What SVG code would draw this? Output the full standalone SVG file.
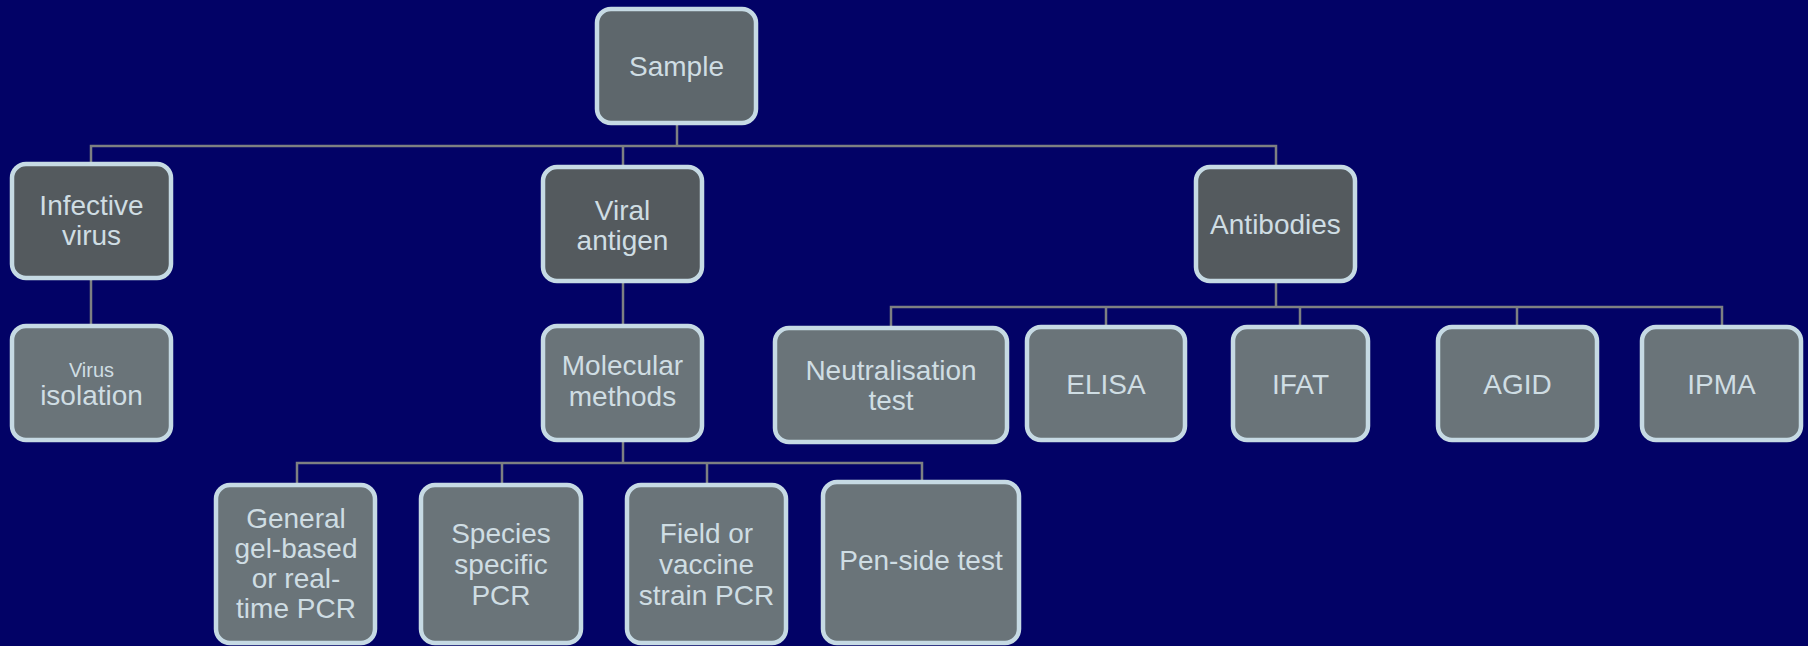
<svg xmlns="http://www.w3.org/2000/svg" width="1808" height="646" viewBox="0 0 1808 646">
<style>
.bx{stroke:#c6dae4;stroke-width:4.5}
.l0{fill:#5e676c}
.l1{fill:#545a5e}
.l2{fill:#6a7479}
.t{font-family:"Liberation Sans",Arial,sans-serif;font-size:28px;fill:#cfdde3;text-anchor:middle}
.c{stroke:#7d8082;stroke-width:2.5;fill:none}
</style>
<rect width="1808" height="646" fill="#020266"/>
<g id="connectors">
<path class="c" d="M677 123V146M91 164V146H1276V167M623 146V167"/>
<path class="c" d="M91 278V326"/>
<path class="c" d="M623 281V326"/>
<path class="c" d="M623 440V463M297 484V463H922V482M502 463V484M707 463V484"/>
<path class="c" d="M1276 281V307M891 327V307H1722V327M1106 307V327M1300 307V327M1517 307V327"/>
</g>
<g id="sample"><rect class="bx l0" x="597" y="9" width="159" height="114" rx="14"/><text class="t" x="676.5" y="76">Sample</text></g>
<g id="infective-virus"><rect class="bx l1" x="12" y="164" width="159" height="114" rx="14"/><text class="t" x="91.5" y="215">Infective</text><text class="t" x="91.5" y="245">virus</text></g>
<g id="virus-isolation"><rect class="bx l2" x="12" y="326" width="159" height="114" rx="14"/><text class="t" x="91.5" y="377" style="font-size:20px">Virus</text><text class="t" x="91.5" y="405">isolation</text></g>
<g id="viral-antigen"><rect class="bx l1" x="543" y="167" width="159" height="114" rx="14"/><text class="t" x="622.5" y="220">Viral</text><text class="t" x="622.5" y="250">antigen</text></g>
<g id="molecular-methods"><rect class="bx l2" x="543" y="326" width="159" height="114" rx="14"/><text class="t" x="622.5" y="375">Molecular</text><text class="t" x="622.5" y="406">methods</text></g>
<g id="antibodies"><rect class="bx l1" x="1196" y="167" width="159" height="114" rx="14"/><text class="t" x="1275.5" y="234">Antibodies</text></g>
<g id="neutralisation-test"><rect class="bx l2" x="775" y="328" width="232" height="114" rx="14"/><text class="t" x="891" y="380">Neutralisation</text><text class="t" x="891" y="410">test</text></g>
<g id="elisa"><rect class="bx l2" x="1027" y="327" width="158" height="113" rx="14"/><text class="t" x="1106" y="394">ELISA</text></g>
<g id="ifat"><rect class="bx l2" x="1233" y="327" width="135" height="113" rx="14"/><text class="t" x="1300.5" y="394">IFAT</text></g>
<g id="agid"><rect class="bx l2" x="1438" y="327" width="159" height="113" rx="14"/><text class="t" x="1517.5" y="394">AGID</text></g>
<g id="ipma"><rect class="bx l2" x="1642" y="327" width="159" height="113" rx="14"/><text class="t" x="1721.5" y="394">IPMA</text></g>
<g id="general-pcr"><rect class="bx l2" x="216" y="485" width="159" height="158" rx="14"/><text class="t" x="296" y="528">General</text><text class="t" x="296" y="558">gel-based</text><text class="t" x="296" y="588">or real-</text><text class="t" x="296" y="618">time PCR</text></g>
<g id="species-pcr"><rect class="bx l2" x="421" y="485" width="160" height="158" rx="14"/><text class="t" x="501" y="543">Species</text><text class="t" x="501" y="574">specific</text><text class="t" x="501" y="605">PCR</text></g>
<g id="field-pcr"><rect class="bx l2" x="627" y="485" width="159" height="158" rx="14"/><text class="t" x="706.5" y="543">Field or</text><text class="t" x="706.5" y="574">vaccine</text><text class="t" x="706.5" y="605">strain PCR</text></g>
<g id="pen-side-test"><rect class="bx l2" x="823" y="482" width="196" height="161" rx="14"/><text class="t" x="921" y="570">Pen-side test</text></g>
</svg>
